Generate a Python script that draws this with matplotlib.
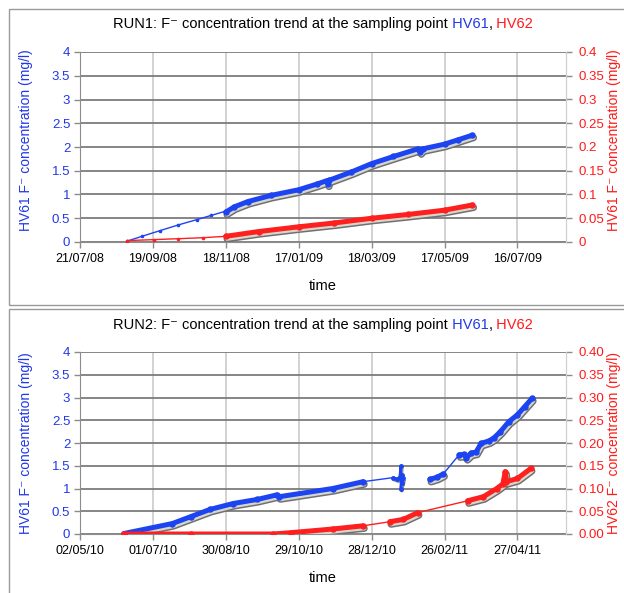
import datetime as dt
import matplotlib
matplotlib.use('Agg')
import matplotlib.pyplot as plt
import matplotlib.transforms as mtransforms
from matplotlib.offsetbox import TextArea, HPacker, AnchoredOffsetbox
from matplotlib.patches import Rectangle

plt.rcParams['font.family'] = ['Liberation Sans', 'DejaVu Sans']

# ---------------- DATA ----------------
# RUN1 (2008-2009)
r1_xticks = ['21/07/08', '19/09/08', '18/11/08', '17/01/09', '18/03/09', '17/05/09', '16/07/09']
r1_xmax = '25/08/09'

r1_hv61_sparse_dates = ['29/08/08', '10/09/08', '25/09/08', '10/10/08', '25/10/08', '06/11/08', '18/11/08']
r1_hv61_sparse_vals = [0.02, 0.12, 0.24, 0.36, 0.47, 0.56, 0.65]
r1_hv61_dense_dates = ['18/11/08', '25/11/08', '06/12/08', '25/12/08', '17/01/09', '01/02/09', '09/02/09',
                       '10/02/09', '11/02/09', '01/03/09', '18/03/09', '05/04/09', '25/04/09', '27/04/09',
                       '29/04/09', '17/05/09', '28/05/09', '09/06/09']
r1_hv61_dense_vals = [0.63, 0.74, 0.85, 0.98, 1.10, 1.22, 1.29, 1.22, 1.30, 1.47, 1.65, 1.80, 1.96, 1.90,
                      1.96, 2.06, 2.15, 2.25]

r1_hv62_sparse_dates = ['29/08/08', '20/09/08', '10/10/08', '30/10/08', '18/11/08']
r1_hv62_sparse_vals = [0.003, 0.005, 0.007, 0.009, 0.012]
r1_hv62_dense_dates = ['18/11/08', '15/12/08', '17/01/09', '15/02/09', '18/03/09', '17/04/09', '17/05/09', '09/06/09']
r1_hv62_dense_vals = [0.012, 0.022, 0.032, 0.040, 0.050, 0.058, 0.067, 0.078]

# RUN2 (2010-2011)
r2_xticks = ['02/05/10', '01/07/10', '30/08/10', '29/10/10', '28/12/10', '26/02/11', '27/04/11']
r2_xmax = '06/06/11'

r2_hv61_dense_a_dates = ['07/06/10', '17/07/10', '01/08/10', '17/08/10', '05/09/10', '25/09/10', '11/10/10',
                         '13/10/10', '26/11/10', '21/12/10']
r2_hv61_dense_a_vals = [0.01, 0.23, 0.38, 0.54, 0.67, 0.76, 0.86, 0.82, 1.00, 1.15]
r2_hv61_thin_a_dates = ['21/12/10', '15/01/11']
r2_hv61_thin_a_vals = [1.15, 1.24]
r2_hv61_cluster_dates = ['15/01/11', '18/01/11', '20/01/11', '21/01/11', '21/01/11', '22/01/11', '22/01/11', '23/01/11']
r2_hv61_cluster_vals = [1.24, 1.21, 1.25, 1.50, 1.00, 1.30, 1.12, 1.22]
r2_hv61_dense_b_dates = ['14/02/11', '20/02/11', '25/02/11']
r2_hv61_dense_b_vals = [1.20, 1.25, 1.32]
r2_hv61_thin_b_dates = ['25/02/11', '10/03/11']
r2_hv61_thin_b_vals = [1.32, 1.74]
r2_hv61_dense_c_dates = ['10/03/11', '14/03/11', '16/03/11', '20/03/11', '24/03/11', '28/03/11', '04/04/11',
                         '08/04/11', '13/04/11', '20/04/11', '27/04/11', '03/05/11', '09/05/11']
r2_hv61_dense_c_vals = [1.74, 1.75, 1.68, 1.78, 1.80, 1.99, 2.05, 2.12, 2.25, 2.47, 2.62, 2.80, 2.98]

r2_hv62_dense_a_dates = ['07/06/10', '01/08/10', '08/10/10', '23/10/10', '26/11/10', '21/12/10']
r2_hv62_dense_a_vals = [0.000, 0.000, 0.000, 0.003, 0.011, 0.018]
r2_hv62_thin_a_dates = ['21/12/10', '12/01/11']
r2_hv62_thin_a_vals = [0.018, 0.027]
r2_hv62_dense_b_dates = ['12/01/11', '23/01/11', '04/02/11']
r2_hv62_dense_b_vals = [0.027, 0.032, 0.047]
r2_hv62_thin_b_dates = ['04/02/11', '17/03/11']
r2_hv62_thin_b_vals = [0.047, 0.073]
r2_hv62_dense_c_dates = ['17/03/11', '30/03/11', '10/04/11', '15/04/11', '17/04/11', '18/04/11', '27/04/11', '08/05/11']
r2_hv62_dense_c_vals = [0.073, 0.082, 0.100, 0.110, 0.137, 0.115, 0.122, 0.144]

left_ticks = [0, 0.5, 1, 1.5, 2, 2.5, 3, 3.5, 4]
right_ticks = [0, 0.05, 0.1, 0.15, 0.2, 0.25, 0.3, 0.35, 0.4]
r1_right_labels = ['0', '0.05', '0.1', '0.15', '0.2', '0.25', '0.3', '0.35', '0.4']
r2_right_labels = ['0.00', '0.05', '0.10', '0.15', '0.20', '0.25', '0.30', '0.35', '0.40']

# ---------------- STYLE ----------------
BLUE = '#1c44f2'
BLUE_TXT = '#2038e8'
RED = '#ff1f1f'
RED_TXT = '#ff1a1a'
W, H = 624, 593
SUP = '\u207b'


def d(s):
    return dt.datetime.strptime(s, '%d/%m/%y')


def D(lst):
    return [d(s) for s in lst]


fig = plt.figure(figsize=(W / 100, H / 100), dpi=100)

# panel frames
for (top, bot) in [(9, 305), (309, 600)]:
    fig.add_artist(Rectangle((9 / W, 1 - bot / H), 700 / W, (bot - top) / H,
                             transform=fig.transFigure, fill=False,
                             edgecolor='#9a9a9a', lw=1.0))


def draw(ax, dates, vals, color, kind):
    x = D(dates)
    sh = mtransforms.offset_copy(ax.transData, fig=fig, x=1.2, y=-2.6, units='dots')
    if kind == 'dense':
        ax.plot(x, vals, color='#707070', lw=5.0, solid_capstyle='round', transform=sh, zorder=2)
        ax.plot(x, vals, color='#d6d6cc', lw=2.8, solid_capstyle='round', transform=sh, zorder=2.1)
        ax.plot(x, vals, color=color, lw=3.6, solid_capstyle='round', zorder=3)
        ax.plot(x, vals, color=color, lw=0, marker='o', ms=3.6, zorder=3)
    elif kind == 'cluster':
        ax.plot(x, vals, color='#8a8a8a', lw=2.0, transform=sh, zorder=2)
        ax.plot(x, vals, color=color, lw=1.6, marker='o', ms=2.5, zorder=3)
    else:
        ax.plot(x, vals, color=color, lw=1.0, marker='o', ms=1.6, zorder=3)


def setup(ax, ax2, xticks, xmax, right_labels, right_name, ylab_y):
    ax.set_xlim(d(xticks[0]), d(xmax))
    ax.set_ylim(0, 4)
    ax.set_xticks(D(xticks))
    ax.set_xticklabels(xticks, fontsize=9)
    ax.set_yticks(left_ticks)
    ax.set_yticklabels([('%g' % v) for v in left_ticks], fontsize=9.5, color=BLUE_TXT)
    ax.yaxis.grid(True, color='#7c7c7c', lw=1.3)
    ax.xaxis.grid(True, color='#cfcfcf', lw=1.3)
    ax.set_axisbelow(True)
    ax.spines['top'].set_visible(False)
    ax.spines['left'].set_color('#8c8c8c')
    ax.spines['bottom'].set_color('#8c8c8c')
    ax.spines['right'].set_color('#cfcfcf')
    ax.tick_params(axis='both', color='#8c8c8c', length=4, width=1)
    ax.tick_params(axis='x', pad=4)
    ax.tick_params(axis='y', pad=3)
    ax2.set_ylim(0, 0.4)
    ax2.set_yticks(right_ticks)
    ax2.set_yticklabels(right_labels, fontsize=9.5, color=RED_TXT)
    ax2.tick_params(axis='y', color='#8c8c8c', length=4, width=1, pad=5)
    for s in ['top', 'left', 'bottom']:
        ax2.spines[s].set_visible(False)
    ax2.spines['right'].set_color('#cfcfcf')
    ax.set_xlabel('time', fontsize=10.5, labelpad=10)
    fig.text(26 / W, ylab_y, 'HV61 F' + SUP + ' concentration (mg/l)', rotation=90,
             ha='center', va='center', fontsize=10, color=BLUE_TXT)
    fig.text(614 / W, ylab_y, right_name + ' F' + SUP + ' concentration (mg/l)', rotation=90,
             ha='center', va='center', fontsize=10, color=RED_TXT)


# ---------- RUN1 ----------
ax1 = fig.add_axes([80 / W, 1 - 242 / H, (566 - 80) / W, (242 - 52) / H])
ax1b = ax1.twinx()
draw(ax1, r1_hv61_sparse_dates, r1_hv61_sparse_vals, BLUE, 'thin')
draw(ax1, r1_hv61_dense_dates, r1_hv61_dense_vals, BLUE, 'dense')
draw(ax1b, r1_hv62_sparse_dates, r1_hv62_sparse_vals, RED, 'thin')
draw(ax1b, r1_hv62_dense_dates, r1_hv62_dense_vals, RED, 'dense')
setup(ax1, ax1b, r1_xticks, r1_xmax, r1_right_labels, 'HV61', 1 - 140 / H)

# ---------- RUN2 ----------
ax2 = fig.add_axes([80 / W, 1 - 534 / H, (566 - 80) / W, (534 - 352) / H])
ax2b = ax2.twinx()
draw(ax2, r2_hv61_dense_a_dates, r2_hv61_dense_a_vals, BLUE, 'dense')
draw(ax2, r2_hv61_thin_a_dates, r2_hv61_thin_a_vals, BLUE, 'thin')
draw(ax2, r2_hv61_cluster_dates, r2_hv61_cluster_vals, BLUE, 'cluster')
draw(ax2, r2_hv61_dense_b_dates, r2_hv61_dense_b_vals, BLUE, 'dense')
draw(ax2, r2_hv61_thin_b_dates, r2_hv61_thin_b_vals, BLUE, 'thin')
draw(ax2, r2_hv61_dense_c_dates, r2_hv61_dense_c_vals, BLUE, 'dense')
draw(ax2b, r2_hv62_dense_a_dates, r2_hv62_dense_a_vals, RED, 'dense')
draw(ax2b, r2_hv62_thin_a_dates, r2_hv62_thin_a_vals, RED, 'thin')
draw(ax2b, r2_hv62_dense_b_dates, r2_hv62_dense_b_vals, RED, 'dense')
draw(ax2b, r2_hv62_thin_b_dates, r2_hv62_thin_b_vals, RED, 'thin')
draw(ax2b, r2_hv62_dense_c_dates, r2_hv62_dense_c_vals, RED, 'dense')
setup(ax2, ax2b, r2_xticks, r2_xmax, r2_right_labels, 'HV62', 1 - 443 / H)


# titles (multi-coloured)
def title(num, ycen):
    props = dict(fontsize=10.5)
    parts = [TextArea('RUN%d: F' % num + SUP + ' concentration trend at the sampling point',
                      textprops=dict(color='black', **props)),
             TextArea(' HV61', textprops=dict(color=BLUE_TXT, **props)),
             TextArea(',', textprops=dict(color='black', **props)),
             TextArea(' HV62', textprops=dict(color=RED_TXT, **props))]
    box = HPacker(children=parts, align='baseline', pad=0, sep=0)
    ab = AnchoredOffsetbox(loc='center', child=box, pad=0, borderpad=0, frameon=False,
                           bbox_to_anchor=(323 / W, ycen), bbox_transform=fig.transFigure)
    fig.add_artist(ab)


title(1, 1 - 24 / H)
title(2, 1 - 325 / H)

fig.savefig('out.png', dpi=100)
